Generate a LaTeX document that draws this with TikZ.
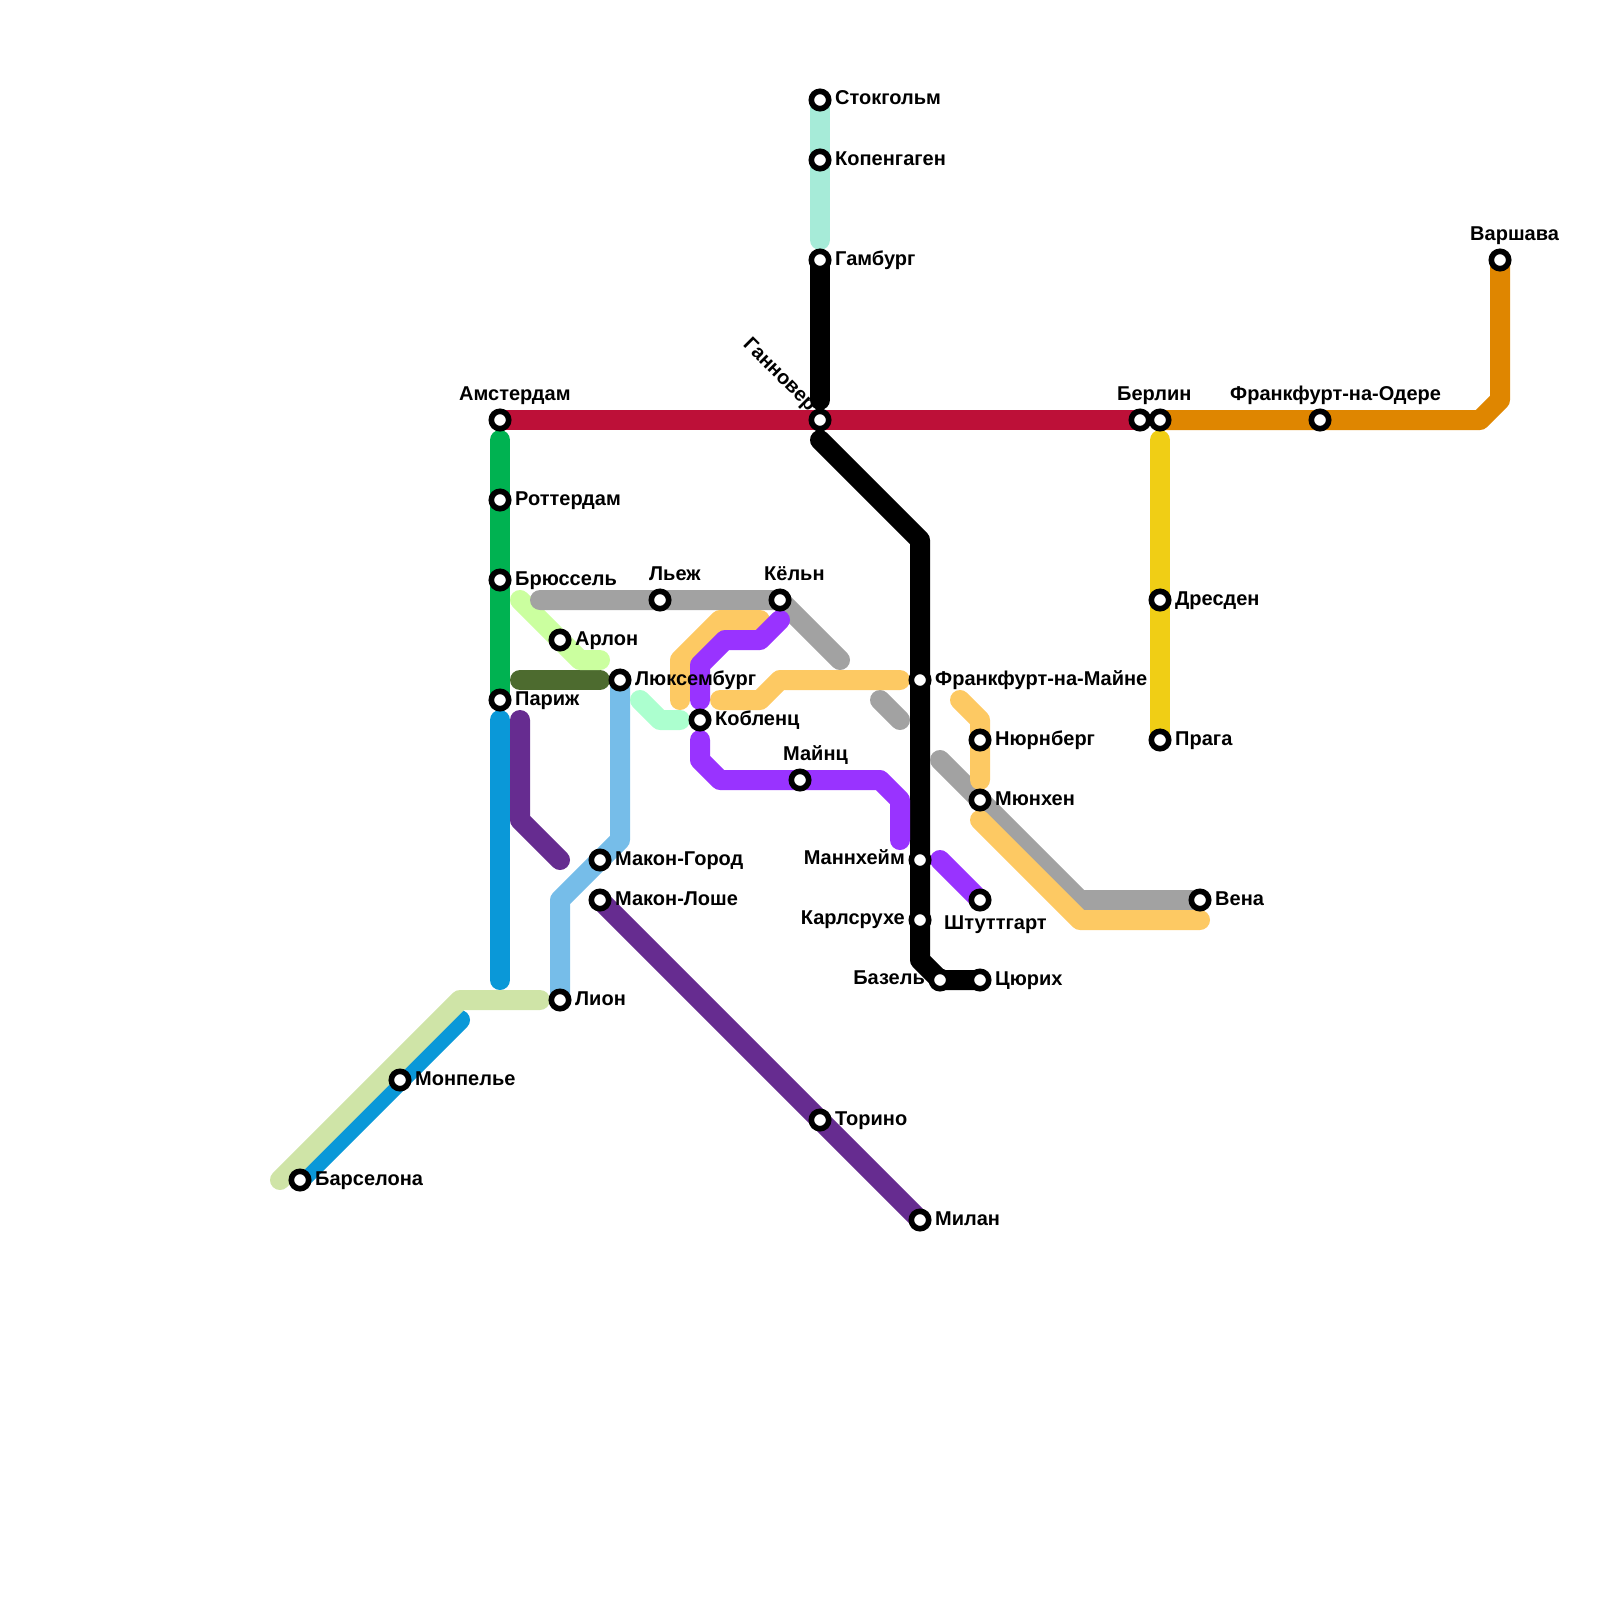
\documentclass[tikz,border=0pt]{standalone}
\usepackage{fontspec}
\setmainfont{Liberation Sans}
\usetikzlibrary{backgrounds}
\definecolor{crimson}{HTML}{BD1038}
\definecolor{amber}{HTML}{DF8600}
\definecolor{emerald}{HTML}{00B251}
\definecolor{azure}{HTML}{0A98D8}
\definecolor{sky}{HTML}{76BDE9}
\definecolor{mint}{HTML}{A6EBD8}
\definecolor{seafoam}{HTML}{ACFFCF}
\definecolor{lime}{HTML}{CBFF9F}
\definecolor{sage}{HTML}{CFE4A7}
\definecolor{moss}{HTML}{4D6B2F}
\definecolor{plum}{HTML}{662C90}
\definecolor{violet}{HTML}{9933FF}
\definecolor{grey}{HTML}{A2A2A2}
\definecolor{honey}{HTML}{FDC963}
\definecolor{sun}{HTML}{F0CE15}
\tikzset{
  metro/.style={line width=20pt,line cap=round,line join=round},
  station/.style={circle,draw=black,fill=white,line width=5.6pt,inner sep=0pt,minimum size=17.4pt},
  stationname/.style={font=\bfseries\fontsize{20}{20}\selectfont,text=black,inner sep=0pt}
}
\begin{document}
\begin{tikzpicture}[x=1pt,y=-1pt]
  \path[use as bounding box] (0,0) rectangle (1600,1600);

  % Stations with the name to the right.
  \foreach \n/\x/\y/\t in {stockholm/820/100/Стокгольм,copenhagen/820/160/Копенгаген,hamburg/820/260/Гамбург,
    rotterdam/500/500/Роттердам,brussels/500/580/Брюссель,paris/500/700/Париж,arlon/560/640/Арлон,
    luxembourg/620/680/Люксембург,koblenz/700/720/Кобленц,frankfurt/920/680/Франкфурт-на-Майне,
    nuremberg/980/740/Нюрнберг,munich/980/800/Мюнхен,zurich/980/980/Цюрих,vienna/1200/900/Вена,
    dresden/1160/600/Дресден,prague/1160/740/Прага,maconcity/600/860/Макон-Город,maconloche/600/900/Макон-Лоше,
    lyon/560/1000/Лион,torino/820/1120/Торино,milan/920/1220/Милан,montpellier/400/1080/Монпелье,
    barcelona/300/1180/Барселона}{
    \node[station] (\n) at (\x,\y) {};
    \node[stationname,anchor=base west] (\n-name) at (\x+15,\y+5) {\t};
  }
  % Stations with the name placed by hand.
  \foreach \n/\x/\y/\lx/\ly/\a/\t in {amsterdam/500/420/459/400/west/Амстердам,liege/660/600/649/580/west/Льеж,
    cologne/780/600/764/580/west/Кёльн,mainz/800/780/783/760/west/Майнц,berlinwest/1140/420/1117/400/west/Берлин,
    frankfurtoder/1320/420/1230/400/west/Франкфурт-на-Одере,warsaw/1500/260/1470/240/west/Варшава,
    stuttgart/980/900/944/929/west/Штуттгарт,mannheim/920/860/905/864/east/Маннхейм,
    karlsruhe/920/920/905/924/east/Карлсрухе,basel/940/980/925/984/east/Базель}{
    \node[station] (\n) at (\x,\y) {};
    \node[stationname,anchor=base \a] (\n-name) at (\lx,\ly) {\t};
  }
  \node[station] (berlineast) at (1160,420) {};
  \node[station] (hanover) at (820,420) {};
  \node[stationname,anchor=base east,rotate=-45] (hanover-name) at (809,412) {Ганновер};

  \begin{pgfonlayer}{background}
    % Trunk lines.
    \draw[metro,crimson] (amsterdam.center) -- (berlinwest.center);
    \draw[metro,amber] (berlineast.center) -- ++(320,0) -- ++(20,-20) -- (warsaw.center);
    \draw[metro,mint] (stockholm.center) -- ++(0,140);
    \draw[metro,black] (hamburg.center) -- ++(0,140);
    \draw[metro,black] (hanover.center) ++(0,20) -- ++(100,100) -- ++(0,420) -- ++(20,20) -- (zurich.center);
    \draw[metro,sun] (berlineast.center) ++(0,20) -- (prague.center);
    \draw[metro,emerald] (amsterdam.center) ++(0,20) -- (paris.center);
    \draw[metro,azure] (paris.center) ++(0,20) -- ++(0,260);
    \draw[metro,azure] (barcelona.center) -- (montpellier.center) -- ++(60,-60);
    \draw[metro,sage] (barcelona.center) ++(-20,0) -- ++(180,-180) -- ++(80,0);

    % Branches around Luxembourg.
    \draw[metro,plum] (paris.center) ++(20,20) -- ++(0,100) -- ++(40,40);
    \draw[metro,plum] (maconloche.center) -- (milan.center);
    \draw[metro,sky] (luxembourg.center) -- ++(0,160) -- ++(-60,60) -- (lyon.center);
    \draw[metro,moss] (luxembourg.center) ++(-100,0) -- ++(80,0);
    \draw[metro,lime] (brussels.center) ++(20,20) -- ++(60,60) -- ++(20,0);
    \draw[metro,seafoam] (koblenz.center) ++(-60,-20) -- ++(20,20) -- ++(20,0);

    % Grey and honey lines, broken where they pass under others.
    \draw[metro,grey] (brussels.center) ++(40,20) -- (cologne.center) -- ++(60,60);
    \draw[metro,grey] (frankfurt.center) ++(-40,20) -- ++(20,20);
    \draw[metro,grey] (munich.center) ++(-40,-40) -- ++(140,140) -- (vienna.center);
    \draw[metro,honey] (koblenz.center) ++(-20,-20) -- ++(0,-40) -- ++(40,-40) -- ++(40,0);
    \draw[metro,honey] (koblenz.center) ++(20,-20) -- ++(40,0) -- ++(20,-20) -- ++(120,0);
    \draw[metro,honey] (nuremberg.center) ++(-20,-40) -- ++(20,20) -- ++(0,60);
    \draw[metro,honey] (munich.center) ++(0,20) -- ++(100,100) -- ++(120,0);

    % Violet line.
    \draw[metro,violet] (cologne.center) ++(0,20) -- ++(-20,20) -- ++(-35,0) -- ++(-25,25) -- ++(0,35);
    \draw[metro,violet] (koblenz.center) ++(0,20) -- ++(0,20) -- ++(20,20) -- ++(160,0) -- ++(20,20) -- ++(0,40);
    \draw[metro,violet] (mannheim.center) ++(20,0) -- (stuttgart.center);
  \end{pgfonlayer}
\end{tikzpicture}
\end{document}
